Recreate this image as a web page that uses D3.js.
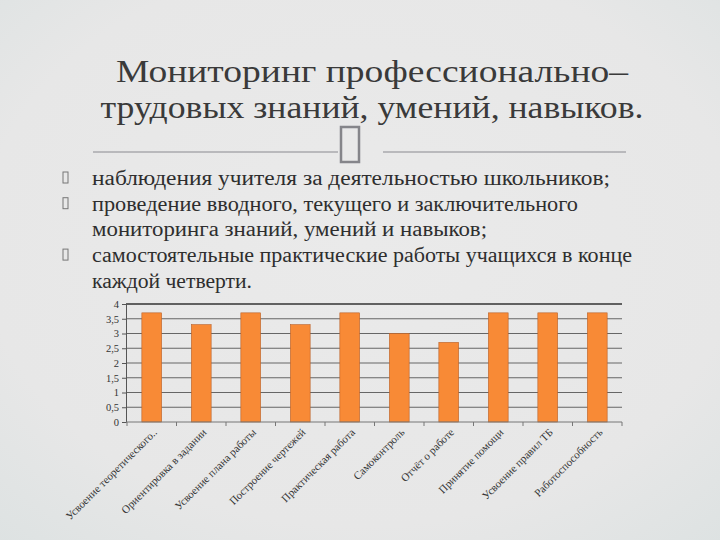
<!DOCTYPE html>
<html><head><meta charset="utf-8">
<script src="https://cdn.jsdelivr.net/npm/d3@7"></script>
</head><body style="margin:0;background:#e8e8e8">
<script>
const categories = ["Усвоение теоретического..","Ориентировка в задании","Усвоение плана работы","Построение чертежей","Практическая работа","Самоконтроль","Отчёт о работе","Принятие помощи","Усвоение правил ТБ","Работоспособность"];
const values = [3.7,3.3,3.7,3.3,3.7,3.0,2.7,3.7,3.7,3.7];
const yTicks = [0,0.5,1,1.5,2,2.5,3,3.5,4];
const titleLines = ["Мониторинг профессионально–","трудовых знаний, умений, навыков."];
const bulletLines = [
  {t:"наблюдения учителя за деятельностью школьников;", b:true},
  {t:"проведение вводного, текущего и заключительного", b:true},
  {t:"мониторинга  знаний, умений и навыков;", b:false},
  {t:"самостоятельные практические работы учащихся в конце", b:true},
  {t:"каждой четверти.", b:false}
];

const W=720,H=540;
const SF="Liberation Serif";
const svg=d3.select("body").append("svg").attr("width",W).attr("height",H)
  .attr("font-family",SF).style("display","block");
const rg=svg.append("defs").append("radialGradient").attr("id","bg").attr("cx","50%").attr("cy","45%").attr("r","75%");
rg.append("stop").attr("offset","0%").attr("stop-color","#eaeaea");
rg.append("stop").attr("offset","70%").attr("stop-color","#e7e7e7");
rg.append("stop").attr("offset","100%").attr("stop-color","#dde2e2");
svg.append("rect").attr("width",W).attr("height",H).attr("fill","url(#bg)");

// title
svg.selectAll(".title").data(titleLines).enter().append("text")
  .attr("x",372).attr("y",(d,i)=>82+i*36).attr("text-anchor","middle")
  .attr("font-family",SF).attr("font-size",32).attr("fill","#3a3a3a")
  .attr("textLength",(d,i)=>i===0?512:543).attr("lengthAdjust","spacingAndGlyphs")
  .text(d=>d);
// divider
svg.append("line").attr("x1",93).attr("x2",338).attr("y1",152).attr("y2",152).attr("stroke","#8a8a90").attr("stroke-width",1.2);
svg.append("line").attr("x1",383).attr("x2",626).attr("y1",152).attr("y2",152).attr("stroke","#8a8a90").attr("stroke-width",1.2);
svg.append("rect").attr("x",341).attr("y",127).attr("width",18).attr("height",35).attr("fill","none").attr("stroke","#85858a").attr("stroke-width",2.5);

// bullets
const bw=[518,486,395,540,160];
svg.selectAll(".bt").data(bulletLines).enter().append("text")
  .attr("x",92).attr("y",(d,i)=>185+i*25.7)
  .attr("font-family",SF).attr("font-size",20).attr("fill","#2e2e2e")
  .attr("textLength",(d,i)=>bw[i]).attr("lengthAdjust","spacingAndGlyphs")
  .text(d=>d.t);
svg.selectAll(".bm").data(bulletLines.map((d,i)=>({b:d.b,i})).filter(d=>d.b)).enter().append("rect")
  .attr("x",63).attr("y",d=>172+d.i*25.7)
  .attr("width",5).attr("height",11).attr("fill","none").attr("stroke","#777").attr("stroke-width",1);

// chart
const x=d3.scaleBand().domain(categories).range([127,622]).paddingInner(0.6).paddingOuter(0.3);
const y=d3.scaleLinear().domain([0,4]).range([422,304]);
const g=svg.append("g");
g.selectAll(".grid").data(yTicks.filter(t=>t>0)).enter().append("line")
  .attr("x1",126).attr("x2",622).attr("y1",d=>y(d)).attr("y2",d=>y(d))
  .attr("stroke",d=>d===4?"#333":"#666").attr("stroke-width",d=>d===4?1.3:1.1);
const ya=g.append("g").attr("transform","translate(126,0)")
  .call(d3.axisLeft(y).tickValues(yTicks).tickSize(4).tickFormat(d=>String(d).replace(".",",")));
ya.attr("font-family",SF).attr("font-size",10.5);
ya.select(".domain").attr("stroke","#555");
ya.selectAll(".tick line").attr("stroke","#555");
ya.selectAll("text").attr("fill","#333");

g.selectAll(".bar").data(values).enter().append("rect")
  .attr("x",(d,i)=>x(categories[i])).attr("width",x.bandwidth())
  .attr("y",d=>y(d)).attr("height",d=>y(0)-y(d))
  .attr("fill","#f88a36").attr("stroke","#b8612a").attr("stroke-width",0.6);

// x axis: ticks at band boundaries
const xa=g.append("g").attr("transform","translate(0,422)");
xa.append("line").attr("x1",126).attr("x2",622).attr("stroke","#777").attr("stroke-width",1);
const start=x.range()[0], span=(x.range()[1]-x.range()[0])/categories.length;
xa.selectAll(".tk").data(d3.range(categories.length+1)).enter().append("line")
  .attr("x1",i=>start+i*span).attr("x2",i=>start+i*span)
  .attr("y1",0).attr("y2",4).attr("stroke","#777");
xa.selectAll(".xl").data(categories).enter().append("text")
  .attr("transform",d=>`translate(${x(d)+x.bandwidth()/2+6},11) rotate(-45)`)
  .attr("text-anchor","end").attr("font-family",SF).attr("font-size",11).attr("fill","#333")
  .text(d=>d);
</script>
</body></html>
